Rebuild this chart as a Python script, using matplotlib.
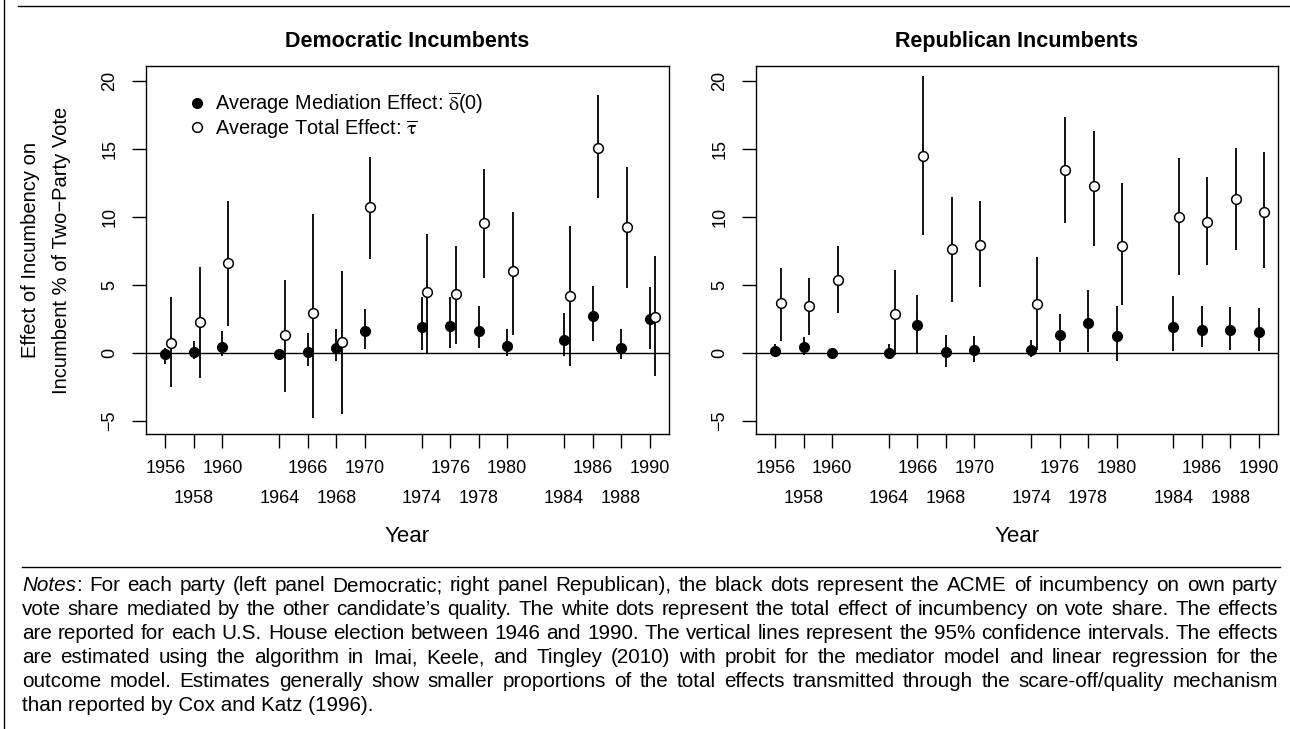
import matplotlib
matplotlib.use("Agg")
import matplotlib.pyplot as plt
from matplotlib.lines import Line2D

plt.rcParams['font.family'] = ['Liberation Sans', 'DejaVu Sans']
plt.rcParams['mathtext.fontset'] = 'stix'

# data
years = [1956, 1958, 1960, 1964, 1966, 1968, 1970, 1974, 1976, 1978, 1980, 1984, 1986, 1988, 1990]
row1_years = [1956, 1960, 1966, 1970, 1976, 1980, 1986, 1990]
row2_years = [1958, 1964, 1968, 1974, 1978, 1984, 1988]

# Democratic incumbents
dem_med = [-0.07, 0.05, 0.44, -0.07, 0.10, 0.37, 1.59, 1.91, 1.99, 1.64, 0.54, 0.98, 2.72, 0.37, 2.50]
dem_med_lo = [-0.78, -0.44, -0.25, -0.30, -0.98, -0.61, 0.29, 0.25, 0.37, 0.37, -0.25, -0.20, 0.90, -0.42, 0.29]
dem_med_hi = [0.37, 0.86, 1.64, 0.20, 1.47, 1.76, 3.24, 4.12, 4.10, 3.46, 1.76, 2.94, 4.90, 1.79, 4.88]
dem_tot = [0.76, 2.25, 6.64, 1.35, 2.94, 0.81, 10.70, 4.49, 4.34, 9.56, 6.00, 4.19, 15.07, 9.26, 2.65]
dem_tot_lo = [-2.50, -1.84, 1.96, -2.90, -4.80, -4.50, 6.90, 0.00, 0.66, 5.50, 1.35, -0.98, 11.40, 4.75, -1.70]
dem_tot_hi = [4.12, 6.30, 11.20, 5.40, 10.25, 6.00, 14.40, 8.75, 7.90, 13.55, 10.40, 9.30, 19.00, 13.65, 7.10]

# Republican incumbents
rep_med = [0.12, 0.47, 0.00, 0.00, 2.08, 0.10, 0.25, 0.20, 1.30, 2.20, 1.23, 1.89, 1.72, 1.67, 1.52]
rep_med_lo = [-0.10, -0.12, -0.10, -0.37, 0.00, -1.03, -0.69, -0.32, 0.05, 0.05, -0.61, 0.12, 0.42, 0.25, 0.12]
rep_med_hi = [0.66, 1.18, 0.10, 0.66, 4.29, 1.35, 1.27, 0.93, 2.89, 4.66, 3.48, 4.17, 3.48, 3.40, 3.30]
rep_tot = [3.65, 3.48, 5.40, 2.90, 14.46, 7.65, 7.94, 3.60, 13.46, 12.25, 7.84, 9.98, 9.60, 11.35, 10.37]
rep_tot_lo = [0.90, 1.35, 2.94, -0.12, 8.65, 3.73, 4.83, 0.25, 9.56, 7.90, 3.55, 5.76, 6.45, 7.60, 6.25]
rep_tot_hi = [6.25, 5.50, 7.84, 6.08, 20.40, 11.50, 11.15, 7.06, 17.35, 16.35, 12.50, 14.30, 12.94, 15.10, 14.80]

notes_lines = [
    "Notes: For each party (left panel Democratic; right panel Republican), the black dots represent the ACME of incumbency on own party",
    "vote share mediated by the other candidate\u2019s quality. The white dots represent the total effect of incumbency on vote share. The effects",
    "are reported for each U.S. House election between 1946 and 1990. The vertical lines represent the 95% confidence intervals. The effects",
    "are estimated using the algorithm in Imai, Keele, and Tingley (2010) with probit for the mediator model and linear regression for the",
    "outcome model. Estimates generally show smaller proportions of the total effects transmitted through the scare-off/quality mechanism",
    "than reported by Cox and Katz (1996).",
]

W, H = 1290, 729
fig = plt.figure(figsize=(12.9, 7.29), dpi=100)

offset = 0.4
tick_fs = 13
lab_fs = 14

def panel(ax, med, med_lo, med_hi, tot, tot_lo, tot_hi, title):
    xs_tot = [y + offset for y in years]
    ax.axhline(0, color='black', lw=1.0, zorder=1)
    ax.vlines(years, med_lo, med_hi, color='black', lw=1.3, zorder=2)
    ax.vlines(xs_tot, tot_lo, tot_hi, color='black', lw=1.3, zorder=2)
    ax.plot(years, med, 'o', color='black', ms=7, zorder=3)
    ax.plot(xs_tot, tot, 'o', mfc='white', mec='black', mew=1.1, ms=7, zorder=3)
    ax.set_xlim(1954.64, 1991.36)
    ax.set_ylim(-5.96, 21.1)
    ax.set_yticks([-5, 0, 5, 10, 15, 20])
    ax.set_xticks(row1_years)
    ax.set_xticklabels([str(y) for y in row1_years])
    ax.set_xticks(row2_years, minor=True)
    ax.set_xticklabels([str(y) for y in row2_years], minor=True)
    ax.tick_params(axis='both', which='both', direction='out', length=10, width=1,
                   labelsize=tick_fs, color='black')
    ax.tick_params(axis='x', which='major', pad=9)
    ax.tick_params(axis='x', which='minor', pad=30)
    ax.tick_params(axis='y', pad=10)
    for lab in ax.get_yticklabels():
        lab.set_rotation(90)
        lab.set_va('center')
    for s in ax.spines.values():
        s.set_linewidth(1.0)
    ax.text(0.5, 1 + 19 / 368, title, transform=ax.transAxes, ha='center', va='baseline',
            fontsize=15.5, fontweight='bold')
    ax.text(0.5, -(537 - 434) / 368, 'Year', transform=ax.transAxes, ha='center',
            va='center', fontsize=16)

ax1 = fig.add_axes([146 / W, 1 - 434 / H, 523 / W, 368 / H])
ax2 = fig.add_axes([756 / W, 1 - 434 / H, 522 / W, 368 / H])
panel(ax1, dem_med, dem_med_lo, dem_med_hi, dem_tot, dem_tot_lo, dem_tot_hi, 'Democratic Incumbents')
panel(ax2, rep_med, rep_med_lo, rep_med_hi, rep_tot, rep_tot_lo, rep_tot_hi, 'Republican Incumbents')

ax1.text(-100.5 / 523, 0.5, 'Effect of Incumbency on\nIncumbent % of Two\u2212Party Vote',
         transform=ax1.transAxes, rotation=90, ha='center', va='center',
         fontsize=lab_fs + 0.5, linespacing=1.8, multialignment='center')

handles = [Line2D([], [], marker='o', ls='none', color='black', ms=7),
           Line2D([], [], marker='o', ls='none', mfc='white', mec='black', mew=1.1, ms=7)]
ax1.legend(handles, [r'Average Mediation Effect: $\overline{\mathrm{\delta}}$(0)',
                     r'Average Total Effect: $\overline{\mathrm{\tau}}$'],
           loc='upper left', bbox_to_anchor=(0.083, 0.935), frameon=False,
           fontsize=lab_fs + 0.3, handlelength=0.8, handletextpad=0.5,
           borderaxespad=0, borderpad=0, labelspacing=0.08)

# frame lines
fig.add_artist(Line2D([4 / W, 4 / W], [0, 1], transform=fig.transFigure, color='black', lw=1.0))
fig.add_artist(Line2D([18 / W, 1], [1 - 6 / H, 1 - 6 / H], transform=fig.transFigure, color='black', lw=1.0))
fig.add_artist(Line2D([22 / W, 1280 / W], [1 - 567 / H, 1 - 567 / H], transform=fig.transFigure, color='black', lw=1.0))

# justified notes
renderer = fig.canvas.get_renderer()
x_left, x_right = 22, 1278
y0, dy = 591, 24

def width_px(t):
    return t.get_window_extent(renderer).width

# pick the size so that the widest line just fits
probe = fig.text(0, 0, '', fontsize=10)
widest = 0
for line in notes_lines[:-1]:
    probe.set_text(line)
    widest = max(widest, width_px(probe))
probe.remove()
notes_fs = 10 * (x_right - x_left) / widest * 0.995

for i, line in enumerate(notes_lines):
    yf = 1 - (y0 + i * dy) / H
    if i == len(notes_lines) - 1:
        fig.text(x_left / W, yf, line, fontsize=notes_fs, va='baseline', ha='left')
        continue
    words = line.split(' ')
    arts = []
    for w in words:
        if w == 'Notes:':
            a = fig.text(0, yf, 'Notes', fontsize=notes_fs, va='baseline', style='italic')
            b = fig.text(0, yf, ':', fontsize=notes_fs, va='baseline')
            arts.append([a, b])
        else:
            arts.append([fig.text(0, yf, w, fontsize=notes_fs, va='baseline')])
    widths = [sum(width_px(t) for t in grp) for grp in arts]
    gap = (x_right - x_left - sum(widths)) / (len(words) - 1)
    x = x_left
    for grp, wd in zip(arts, widths):
        xx = x
        for t in grp:
            t.set_x(xx / W)
            xx += width_px(t)
        x += wd + gap

fig.savefig('out.png', dpi=100)
